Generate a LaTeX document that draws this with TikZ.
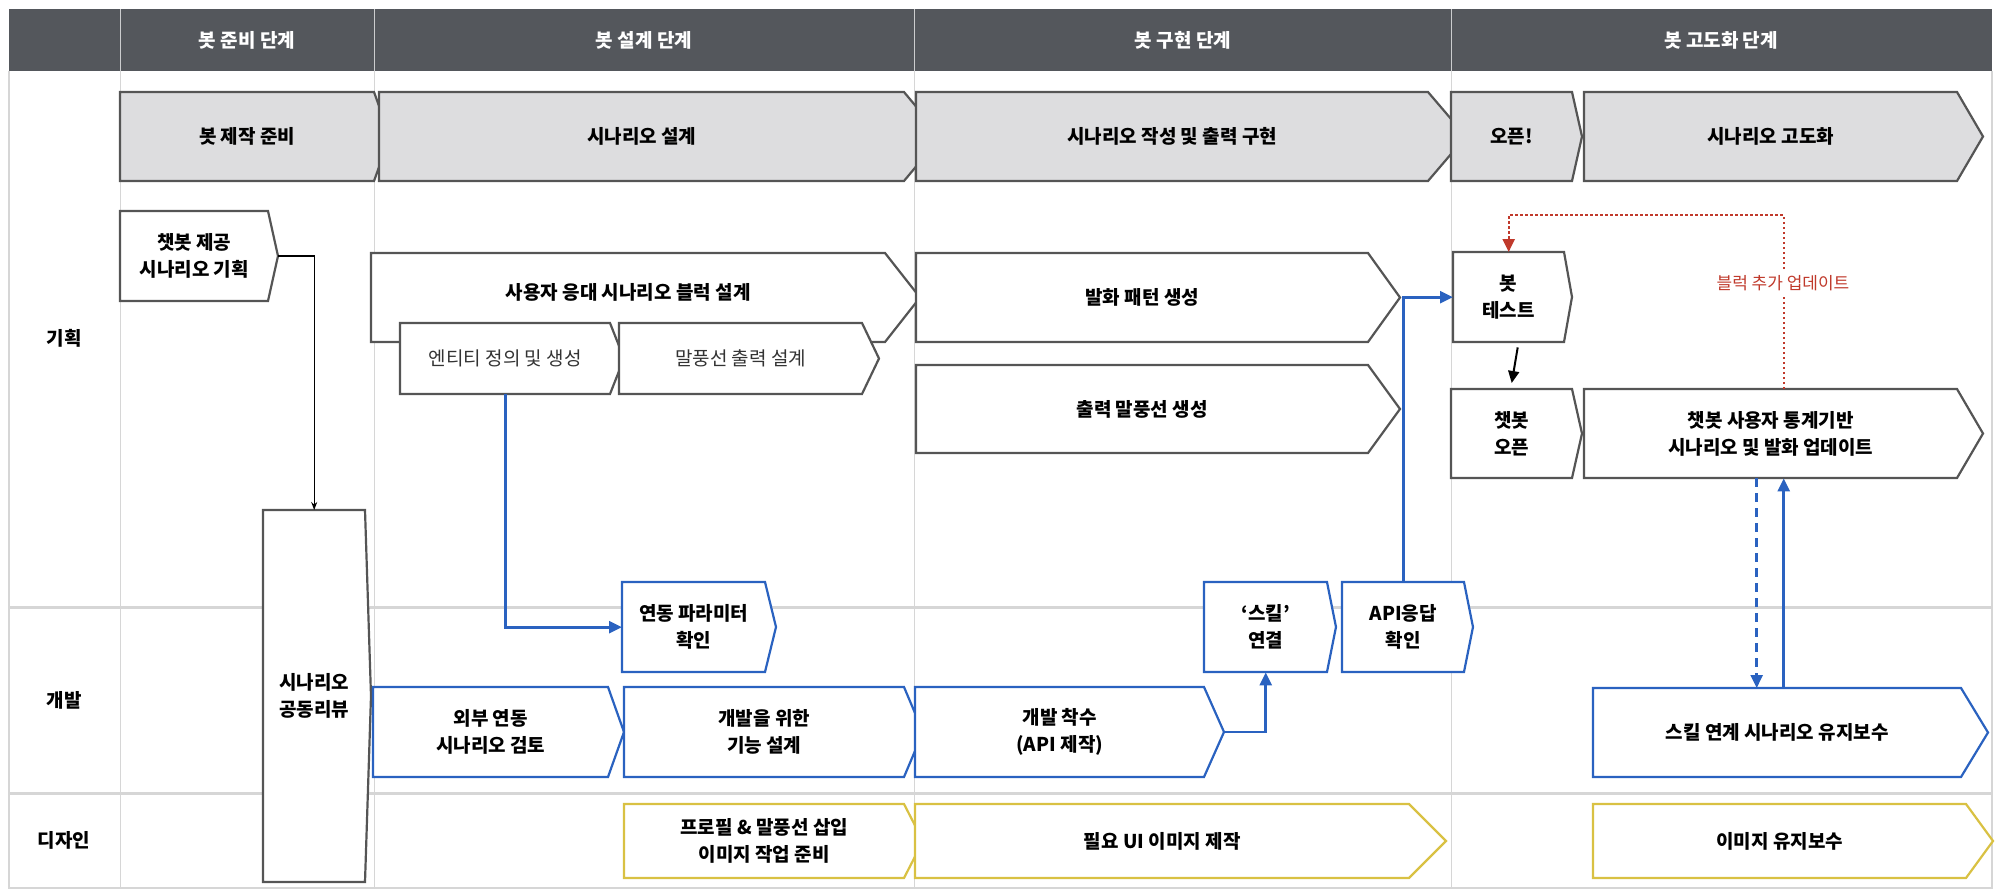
\documentclass[tikz,border=0pt]{standalone}
\usepackage{fontspec}
\setmainfont{Noto Sans CJK KR}
\usetikzlibrary{arrows.meta,calc}
\definecolor{hdr}{HTML}{54575C}
\definecolor{phase}{HTML}{DDDDDF}
\definecolor{gline}{HTML}{555555}
\definecolor{bl}{HTML}{2A62C0}
\definecolor{yl}{HTML}{D9C143}
\definecolor{rd}{HTML}{C0392B}
\definecolor{lane}{HTML}{D6D6D6}
\tikzset{
  gbox/.style={draw=gline,line width=2.2pt,fill=white},
  pbox/.style={draw=gline,line width=2.2pt,fill=phase},
  bbox/.style={draw=bl,line width=2.2pt,fill=white},
  ybox/.style={draw=yl,line width=2.2pt,fill=white},
  txt/.style={inner sep=0pt,align=center,font=\fontsize{19}{27}\selectfont\bfseries},
  ltxt/.style={inner sep=0pt,align=center,font=\fontsize{19}{27}\selectfont,text=black!80},
  barr/.style={draw=bl,line width=2.6pt,-{Triangle[length=13pt,width=12pt]}},
}
% #1 style, #2 name, #3 x1, #4 y1, #5 x2, #6 y2, #7 tip x, #8 text style, #9 text
\newcommand\chv[9]{%
  \path[#1] (#3,#4) -- (#5,#4) -- (#7,{(#4+#6)/2}) -- (#5,#6) -- (#3,#6) -- cycle;
  \coordinate (#2-tip) at (#7,{(#4+#6)/2});
  \node[#8,minimum width={(#5-#3)*1pt},minimum height={(#6-#4)*1pt},anchor=north west] (#2) at (#3,#4) {#9};
}
\begin{document}
\begin{tikzpicture}[x=1pt,y=-1pt]
\useasboundingbox (0,0) rectangle (2000,894);
% header
\fill[hdr] (9,9) rectangle (1992,71);
\foreach \xx in {120,374,914,1451} \draw[white!70!hdr,line width=1pt] (\xx,9) -- (\xx,71);
\foreach \xx in {120,374,914,1451} \draw[lane,line width=1pt] (\xx,71) -- (\xx,888);
\draw[lane,line width=3pt] (9,607) -- (1992,607);
\draw[lane,line width=3pt] (9,793) -- (1992,793);
\draw[lane,line width=2pt] (9,71) -- (9,888) -- (1992,888) -- (1992,71);
\node[txt,text=white] (h1) at (247,40) {봇 준비 단계};
\node[txt,text=white] (h2) at (644,40) {봇 설계 단계};
\node[txt,text=white] (h3) at (1183,40) {봇 구현 단계};
\node[txt,text=white] (h4) at (1721,40) {봇 고도화 단계};
\node[txt] (l1) at (64,338) {기획};
\node[txt] (l2) at (64,700) {개발};
\node[txt] (l3) at (64,840) {디자인};
% phase chevrons
\chv{pbox}{p1}{120}{92}{374}{181}{390}{txt}{봇 제작 준비}
\chv{pbox}{p2}{379}{92}{904}{181}{941}{txt}{시나리오 설계}
\chv{pbox}{p3}{916}{92}{1428}{181}{1466}{txt}{시나리오 작성 및 출력 구현}
\chv{pbox}{p4}{1451}{92}{1572}{181}{1582}{txt}{오픈!}
\chv{pbox}{p5}{1584}{92}{1957}{181}{1983}{txt}{시나리오 고도화}
% planning lane
\chv{gbox}{plan}{120}{211}{268}{301}{278}{txt}{챗봇 제공\\시나리오 기획}
\chv{gbox}{rev}{263}{510}{365}{882}{371}{txt}{시나리오\\공동리뷰}
\chv{gbox}{usr}{371}{253}{885}{342}{920}{txt}{\raisebox{12pt}{사용자 응대 시나리오 블럭 설계}}
\chv{gbox}{ent}{400}{323}{610}{394}{624}{ltxt}{엔티티 정의 및 생성}
\chv{gbox}{bal}{619}{323}{862}{394}{879}{ltxt}{말풍선 출력 설계}
\chv{gbox}{pat}{916}{253}{1368}{342}{1400}{txt}{발화 패턴 생성}
\chv{gbox}{out}{916}{365}{1368}{453}{1400}{txt}{출력 말풍선 생성}
\chv{gbox}{test}{1453}{252}{1564}{342}{1572}{txt}{봇\\테스트}
\chv{gbox}{open}{1451}{389}{1572}{478}{1582}{txt}{챗봇\\오픈}
\chv{gbox}{stat}{1584}{389}{1957}{478}{1983}{txt}{챗봇 사용자 통계기반\\시나리오 및 발화 업데이트}
% dev lane
\chv{bbox}{yd}{622}{582}{765}{672}{776}{txt}{연동 파라미터\\확인}
\chv{bbox}{ext}{373}{687}{608}{777}{624}{txt}{외부 연동\\시나리오 검토}
\chv{bbox}{fn}{624}{687}{904}{777}{923}{txt}{개발을 위한\\기능 설계}
\chv{bbox}{dev}{915}{687}{1204}{777}{1224}{txt}{개발 착수\\(API 제작)}
\chv{bbox}{skill}{1204}{582}{1327}{672}{1336}{txt}{‘스킬’\\연결}
\chv{bbox}{api}{1342}{582}{1464}{672}{1473}{txt}{API응답\\확인}
\chv{bbox}{skm}{1593}{688}{1961}{777}{1988}{txt}{스킬 연계 시나리오 유지보수}
% design lane
\chv{ybox}{prof}{624}{804}{904}{878}{923}{txt}{프로필 \& 말풍선 삽입\\이미지 작업 준비}
\chv{ybox}{ui}{915}{804}{1409}{878}{1446}{txt}{필요 UI 이미지 제작}
\chv{ybox}{img}{1593}{804}{1966}{878}{1993}{txt}{이미지 유지보수}
% connectors
\draw[black,line width=1.2pt,-{Stealth[length=8pt,width=6pt]}] (plan-tip) -| (rev.north);
\draw[barr] (ent.south) |- (yd.west);
\draw[barr] (dev-tip) -| (skill.south);
\draw[barr] (api.north) |- (test.west);
\draw[black,line width=2pt,-{Triangle[length=12pt,width=11pt]}] ($(test.south)+(9,5)$) -- ($(open.north)+(0,-6)$);
\coordinate (dt) at ($(stat.south)+(-14,0)$);
\draw[barr,dashed,dash pattern=on 9pt off 6pt] (dt) -- (dt |- skm.north);
\coordinate (ut) at ($(stat.south)+(13,0)$);
\draw[barr] (ut |- skm.north) -- (ut);
\coordinate (rs) at ($(stat.north)+(13,0)$);
\draw[rd,line width=2.4pt,dash pattern=on 2.5pt off 2.5pt,-{Triangle[length=13pt,width=12pt]}] (rs) -- ++(0,-174) -| (test.north);
\node[txt,font=\fontsize{17}{20}\selectfont,text=rd,fill=white,inner sep=4pt] (rl) at (1783,283) {블럭 추가 업데이트};
\end{tikzpicture}
\end{document}
